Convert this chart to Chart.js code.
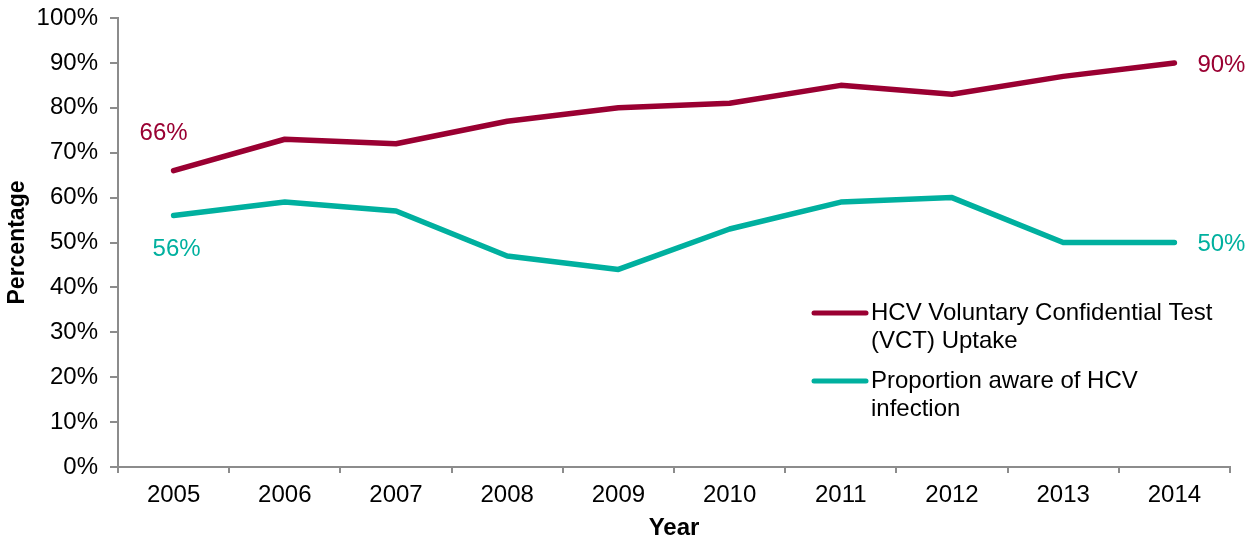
<!DOCTYPE html>
<html>
<head>
<meta charset="utf-8">
<script src="https://cdn.jsdelivr.net/npm/chart.js@4.4.0/dist/chart.umd.min.js"></script>
<style>
  html, body { margin: 0; padding: 0; background: #fff; }
  #wrap { width: 1252px; height: 545px; position: relative; }
</style>
</head>
<body>
<div id="wrap"><canvas id="chart"></canvas></div>
<script>
const years = ["2005", "2006", "2007", "2008", "2009", "2010", "2011", "2012", "2013", "2014"];
const vctUptake = [66, 73, 72, 77, 80, 81, 85, 83, 87, 90];
const awareHcv = [56, 59, 57, 47, 44, 53, 59, 60, 50, 50];
const seriesNames = [
  ["HCV Voluntary Confidential Test", "(VCT) Uptake"],
  ["Proportion aware of HCV", "infection"]
];

const MAROON = "#9a0032";
const TEAL = "#00b09f";
const FONT = "'Liberation Sans', Arial, sans-serif";

// labels on first and last points + legend drawn by hand
const annotate = {
  id: "annotate",
  afterDatasetsDraw(chart) {
    const ctx = chart.ctx;
    ctx.save();
    ctx.font = "24px " + FONT;
    ctx.textBaseline = "middle";

    chart.data.datasets.forEach((ds, i) => {
      const pts = chart.getDatasetMeta(i).data;
      const first = pts[0], last = pts[pts.length - 1];
      const firstDy = i === 0 ? -37 : 34;
      const firstDx = i === 0 ? -10 : 3;
      ctx.fillStyle = ds.borderColor;
      ctx.textAlign = "center";
      ctx.fillText(ds.data[0] + "%", first.x + firstDx, first.y + firstDy);
      ctx.textAlign = "left";
      ctx.fillText(ds.data[ds.data.length - 1] + "%", last.x + 23, last.y + 2);
    });

    // legend
    const lx = 812, ly = [313, 381];
    chart.data.datasets.forEach((ds, i) => {
      ctx.strokeStyle = ds.borderColor;
      ctx.lineWidth = 5;
      ctx.lineCap = "round";
      ctx.beginPath();
      ctx.moveTo(lx + 2, ly[i]);
      ctx.lineTo(lx + 54, ly[i]);
      ctx.stroke();
      ctx.fillStyle = "#000";
      ctx.textAlign = "left";
      seriesNames[i].forEach((line, j) => {
        ctx.fillText(line, lx + 59, ly[i] + j * 28);
      });
    });
    ctx.restore();
  }
};

new Chart(document.getElementById("chart"), {
  type: "line",
  data: {
    labels: years,
    datasets: [
      {
        label: seriesNames[0].join(" "),
        data: vctUptake,
        borderColor: MAROON,
        backgroundColor: MAROON,
        borderWidth: 5.5,
        pointRadius: 0,
        tension: 0,
        borderCapStyle: "round",
        borderJoinStyle: "round"
      },
      {
        label: seriesNames[1].join(" "),
        data: awareHcv,
        borderColor: TEAL,
        backgroundColor: TEAL,
        borderWidth: 5.5,
        pointRadius: 0,
        tension: 0,
        borderCapStyle: "round",
        borderJoinStyle: "round"
      }
    ]
  },
  options: {
    responsive: true,
    maintainAspectRatio: false,
    animation: false,
    layout: { padding: { top: 18, right: 22, left: 0, bottom: 0 } },
    plugins: {
      legend: { display: false },
      tooltip: { enabled: false }
    },
    scales: {
      x: {
        offset: true,
        grid: {
          offset: true,
          drawOnChartArea: false,
          drawTicks: true,
          tickLength: 6,
          color: "#8c8c8c",
          lineWidth: 2
        },
        border: { color: "#8c8c8c", width: 2 },
        ticks: {
          color: "#000",
          font: { family: FONT, size: 24 },
          padding: 8,
          maxRotation: 0
        },
        title: {
          display: true,
          text: "Year",
          color: "#000",
          font: { family: FONT, size: 24, weight: "bold" },
          padding: { top: 4, bottom: 2 }
        },
        afterFit(scale) {
          scale.height = 78;
          scale.paddingLeft = 0;
          scale.paddingRight = 0;
        }
      },
      y: {
        min: 0,
        max: 100,
        ticks: {
          stepSize: 10,
          color: "#000",
          font: { family: FONT, size: 24 },
          padding: 12,
          callback: v => v + "%"
        },
        grid: {
          drawOnChartArea: false,
          drawTicks: true,
          tickLength: 8,
          color: "#8c8c8c",
          lineWidth: 2
        },
        border: { color: "#8c8c8c", width: 2 },
        title: {
          display: true,
          text: "Percentage",
          color: "#000",
          font: { family: FONT, size: 23, weight: "bold" },
          padding: { top: 4, bottom: 4 }
        },
        afterFit(scale) {
          scale.width = 118;
          scale.paddingTop = 0;
          scale.paddingBottom = 0;
        }
      }
    }
  },
  plugins: [annotate]
});
</script>
</body>
</html>
